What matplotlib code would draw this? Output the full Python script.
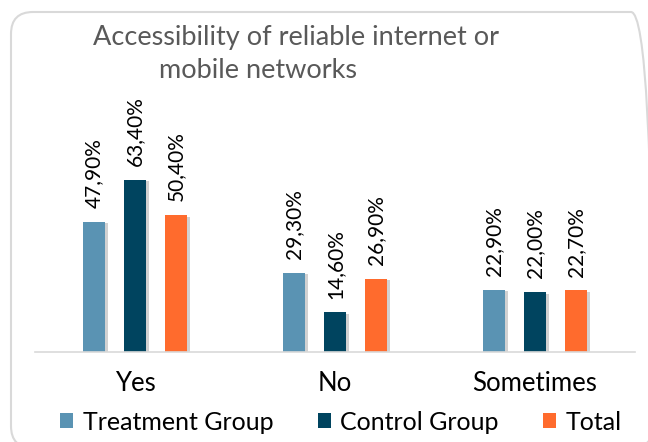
import matplotlib.pyplot as plt
import matplotlib.patheffects as pe
from matplotlib.patches import FancyBboxPatch, Patch
import numpy as np

categories = ["Yes", "No", "Sometimes"]
series_names = ["Treatment Group", "Control Group", "Total"]
treatment = [47.9, 29.3, 22.9]
control = [63.4, 14.6, 22.0]
total = [50.4, 26.9, 22.7]
colors = ["#5A93B3", "#00445F", "#FF6B2D"]

plt.rcParams['font.family'] = ['Lato', 'DejaVu Sans']

fig = plt.figure(figsize=(6.48, 4.42), dpi=100)
W, H = 648, 442

# rounded chart border (inches, runs off the right and bottom edge)
border = FancyBboxPatch((0.11, -0.06), 6.42, 4.36,
                        boxstyle="round,pad=0,rounding_size=0.22",
                        transform=fig.dpi_scale_trans, fill=False,
                        edgecolor="#d9d9d9", linewidth=1.5)
fig.patches.append(border)

ax = fig.add_axes([35 / W, (H - 352) / H, 600 / W, 252 / H])
x = np.arange(len(categories))
width = 0.11
step = 0.205
shadow = [pe.SimplePatchShadow(offset=(2.5, -1), shadow_rgbFace="#999999", alpha=0.45), pe.Normal()]

for i, (vals, name) in enumerate(zip([treatment, control, total], series_names)):
    bars = ax.bar(x + (i - 1) * step, vals, width, color=colors[i], label=name)
    for b in bars:
        b.set_path_effects(shadow)
    for xi, v in zip(x + (i - 1) * step, vals):
        ax.annotate(f"{v:.2f}%".replace(".", ","), (xi, v), xytext=(0, 10),
                    textcoords="offset points", rotation=90, ha="center", va="bottom",
                    fontsize=15, color="black")

ax.set_xlim(-0.5, 2.5)
ax.set_ylim(0, 92.9)
ax.set_xticks(x)
ax.set_xticklabels(categories, fontsize=18.5)
ax.tick_params(axis="x", length=0, pad=14)
ax.set_yticks([])
for s in ["top", "right", "left"]:
    ax.spines[s].set_visible(False)
ax.spines["bottom"].set_color("#d9d9d9")
ax.spines["bottom"].set_linewidth(1.2)
ax.patch.set_alpha(0)

fig.text(296 / W, 1 - 37 / H, "Accessibility of reliable internet or", ha="center", va="center",
         fontsize=19.5, color="#595959")
fig.text(258 / W, 1 - 70 / H, "mobile networks", ha="center", va="center",
         fontsize=19.5, color="#595959")

handles = [Patch(facecolor=c, label=n) for c, n in zip(colors, series_names)]
fig.legend(handles=handles, loc="center", bbox_to_anchor=(341 / W, 1 - 422 / H), ncol=3,
           frameon=False, fontsize=18, handlelength=0.52, handleheight=0.52,
           handletextpad=0.4, columnspacing=1.75, borderpad=0)

fig.savefig("out.png", dpi=100)
